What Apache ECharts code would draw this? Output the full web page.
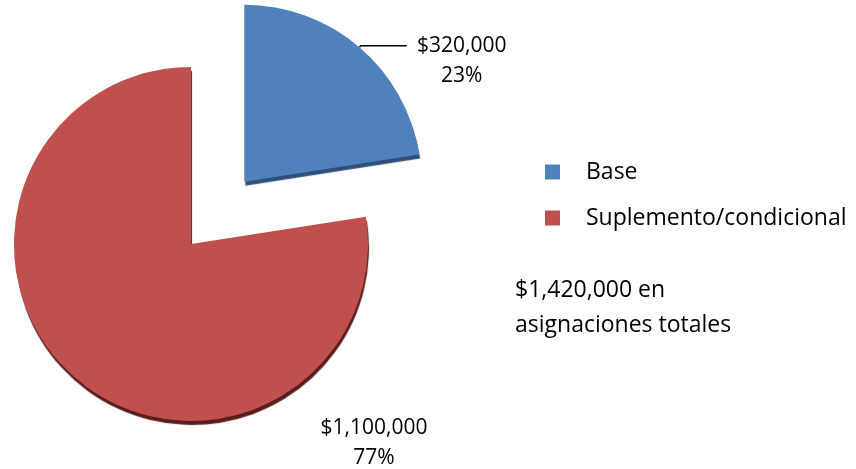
<!DOCTYPE html>
<html>
<head>
<meta charset="utf-8">
<script src="https://cdn.jsdelivr.net/npm/echarts@6/dist/echarts.min.js"></script>
<style>
  html, body { margin: 0; padding: 0; background: #fff; }
  #main { width: 856px; height: 469px; }
</style>
</head>
<body>
<div id="main"></div>
<script>
// datos del gráfico
const categories = ["Base", "Suplemento/condicional"];
const amounts = [320000, 1100000];
const percents = ["23%", "77%"];
const colors = ["#4F81BD", "#C0504D"];
const rimColors = ["#2f4f7a", "#5a1d1c"];
const totalText = "$1,420,000 en\nasignaciones totales";

const font = "'Open Sans', sans-serif";

function money(v) {
  return "$" + v.toLocaleString("en-US");
}

const chart = echarts.init(document.getElementById("main"));

let option = {
  animation: false,
  legend: {
    orient: "vertical",
    left: 540,
    top: 154,
    icon: "rect",
    itemWidth: 15,
    itemHeight: 15,
    itemGap: 20,
    data: categories,
    textStyle: {
      fontFamily: font,
      fontSize: 23,
      color: "#000",
      lineHeight: 26,
      padding: [0, 0, 0, 21]
    },
    selectedMode: false
  },
  graphic: [{
    type: "text",
    left: 515,
    top: 273,
    style: {
      text: totalText,
      font: "23px " + font,
      fill: "#000",
      lineHeight: 35
    }
  }],
  series: [{
    type: "pie",
    center: [191, 244],
    radius: 177,
    startAngle: 90,
    clockwise: true,
    selectedMode: "single",
    selectedOffset: 82,
    emphasis: { disabled: true },
    label: {
      show: true,
      position: "outside",
      alignTo: "none",
      overflow: "none",
      distanceToLabelLine: 2,
      color: "#000",
      formatter: function (p) {
        return "{t|" + money(p.value) + "}\n{t|" + percents[p.dataIndex] + "}";
      },
      rich: {
        t: {
          fontFamily: font,
          fontSize: 21,
          color: "#000",
          lineHeight: 30,
          width: 106,
          align: "center"
        }
      }
    },
    labelLine: {
      show: true,
      length: 2,
      length2: 46,
      lineStyle: { color: "#000", width: 1.5 }
    },
    labelLayout: function (p) {
      if (p.dataIndex === 1) {
        return { x: 374, y: 443, align: "center", verticalAlign: "middle" };
      }
    },
    data: categories.map(function (c, i) {
      return {
        name: c,
        value: amounts[i],
        selected: i === 0,
        itemStyle: {
          color: colors[i],
          shadowColor: rimColors[i],
          shadowOffsetY: 4,
          shadowOffsetX: 1,
          shadowBlur: 1
        },
        label: i === 0 ? { padding: [30, 0, 0, 0] } : {},
        labelLine: { show: i === 0 }
      };
    })
  }]
};

chart.setOption(option);
</script>
</body>
</html>
